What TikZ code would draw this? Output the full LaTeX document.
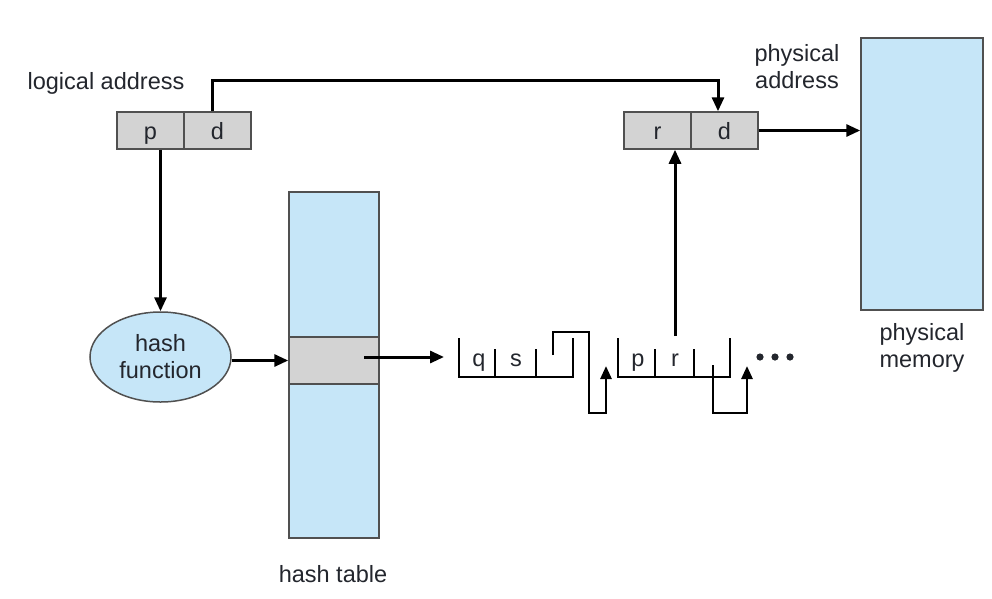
\documentclass[tikz,border=0pt]{standalone}
\usepackage{fontspec}
\setmainfont{Liberation Sans}
\usetikzlibrary{arrows.meta,shapes.geometric}
\definecolor{memblue}{RGB}{198,230,248}
\definecolor{cellgray}{RGB}{211,211,211}
\definecolor{edgegray}{RGB}{80,80,80}
\definecolor{txt}{RGB}{35,38,45}
\tikzset{
  lbl/.style={font=\fontsize{23.5}{27}\selectfont, align=center, inner sep=0pt, text=txt},
  cell/.style={draw=edgegray, fill=cellgray, line width=1.5pt, minimum width=67pt, minimum height=37pt,
    inner sep=0pt, text height=17pt, text depth=0pt, font=\fontsize{23.5}{27}\selectfont, text=txt},
  bluebox/.style={draw=edgegray, fill=memblue, line width=1.5pt, inner sep=0pt},
  arr/.style={line width=3pt, -{Triangle[length=14pt,width=12pt]}},
  chainline/.style={line width=2.7pt},
  chainarr/.style={line width=2.7pt, -{Triangle[length=13pt,width=11pt]}},
  ctext/.style={font=\fontsize{23.5}{27}\selectfont, inner sep=0pt, anchor=base, text=txt}
}
\begin{document}
\begin{tikzpicture}[x=1pt,y=-1pt]
\useasboundingbox (0,0) rectangle (992,598);
% labels
\node[lbl] (lalabel) at (106,83) {logical address};
\node[lbl] (palabel) at (797,67) {physical\\address};
\node[lbl] (pmlabel) at (922,348) {physical\\memory};
\node[lbl] (htlabel) at (333,574) {hash table};
% address boxes
\node[cell] (lp) at (150.5,130.5) {p};
\node[cell] (ld) at (217.5,130.5) {d};
\node[cell] (pr) at (657.5,130.5) {r};
\node[cell] (pd) at (724.5,130.5) {d};
% physical memory
\node[bluebox, minimum width=122pt, minimum height=272pt] (mem) at (922,174) {};
% hash function
\node[bluebox, ellipse, minimum width=141pt, minimum height=90pt, lbl] (hf) at (160.5,357) {hash\\function};
% hash table
\node[bluebox, minimum width=90pt, minimum height=346pt] (ht) at (334,365) {};
\node[draw=edgegray, fill=cellgray, line width=1.5pt, minimum width=90pt, minimum height=47pt, inner sep=0pt] (hb) at (334,360.5) {};
% connectors
\coordinate (tc) at (400,80);
\draw[arr] ([xshift=-5.5pt]ld.north) |- (tc) -| ([xshift=-6.5pt]pd.north);
\draw[arr] (pd.east) -- (pd.east -| mem.west);
\draw[arr] (hf.north |- lp.south) -- (hf.north);
\draw[arr] (hf.east |- hb.center) -- (hb.west);
\coordinate (hbs) at (364,357);
\coordinate (c1) at (444,357);
\draw[arr] (hbs) -- (c1);
\coordinate (rtop) at (675,336);
\draw[arr] (rtop) -- (rtop |- pr.south);
% chain node 1
\draw[chainline] (459,338) -- (459,377) -- (573,377) -- (573,338);
\draw[chainline] (495,349) -- (495,377);
\draw[chainline] (536,349) -- (536,377);
\node[ctext] (tq) at (479,366) {q};
\node[ctext] (ts) at (516,366) {s};
\draw[chainarr] (553,355) -- (553,332) -- (589,332) -- (589,413) -- (606,413) -- (606,366);
% chain node 2
\draw[chainline] (618,338) -- (618,377) -- (730,377) -- (730,338);
\draw[chainline] (655,349) -- (655,377);
\draw[chainline] (694,349) -- (694,377);
\node[ctext] (tp) at (638,366) {p};
\node[ctext] (tr) at (675,366) {r};
\draw[chainarr] (713,365) -- (713,413) -- (747,413) -- (747,366);
% dots
\fill[txt] (760,357) circle (3.6pt) (775,357) circle (3.6pt) (790,357) circle (3.6pt);
\end{tikzpicture}
\end{document}
